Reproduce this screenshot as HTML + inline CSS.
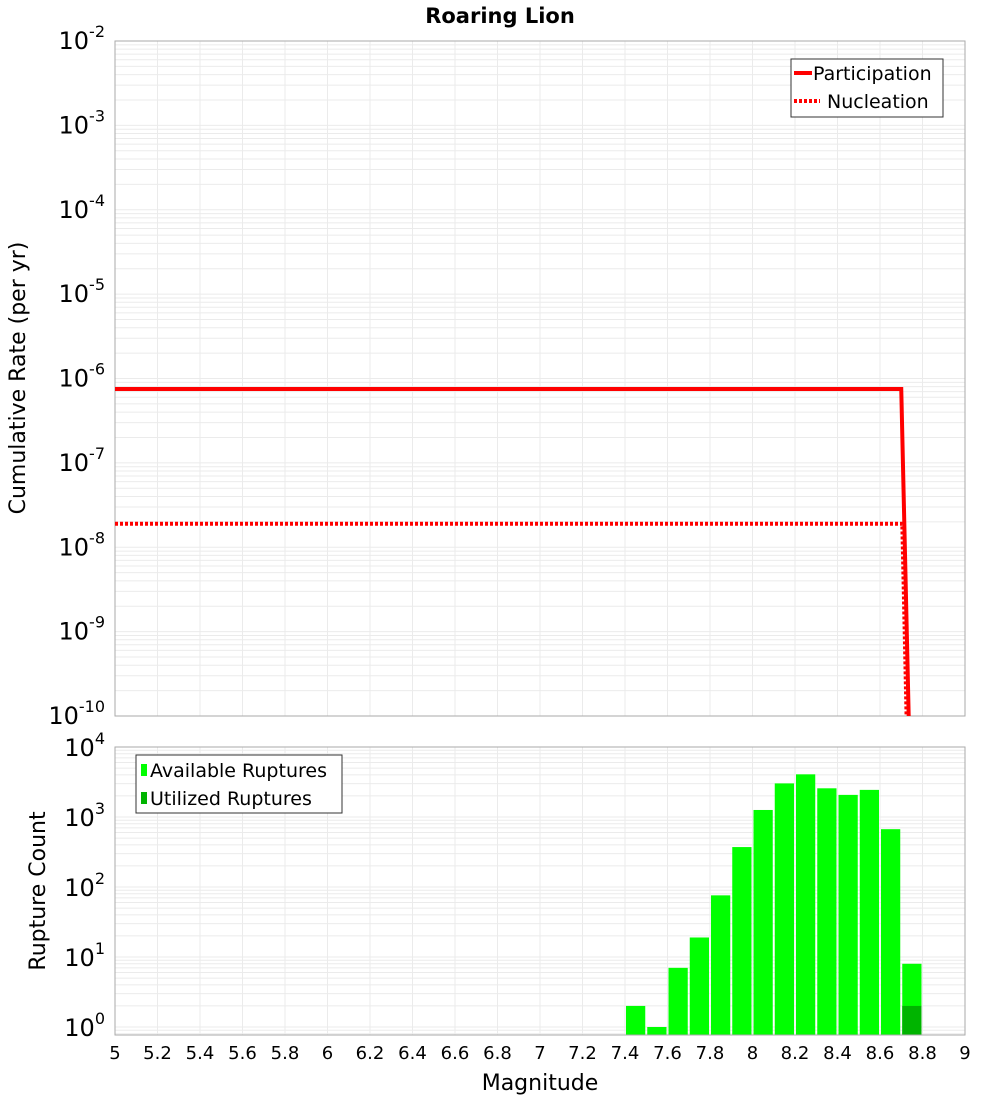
<!DOCTYPE html>
<html><head><meta charset="utf-8"><style>
body{margin:0;background:#fff;}
svg text{font-family:"DejaVu Sans","Liberation Sans",sans-serif;}
</style></head><body>
<svg id="c" width="1000" height="1100" xmlns="http://www.w3.org/2000/svg"></svg>
<script>
const partMags=[5,8.70,8.735];
const partRates=[7.5e-7,7.5e-7,1e-10];
const nuclMags=[5,8.705,8.725];
const nuclRates=[1.9e-8,1.9e-8,1e-10];
const binCenters=[7.45,7.55,7.65,7.75,7.85,7.95,8.05,8.15,8.25,8.35,8.45,8.55,8.65,8.75];
const availCounts=[2,1,7,19,76,372,1260,3020,4070,2570,2070,2440,670,8];
const utilBins=[8.75];
const utilCounts=[2];
const xTicks=[5,5.2,5.4,5.6,5.8,6,6.2,6.4,6.6,6.8,7,7.2,7.4,7.6,7.8,8,8.2,8.4,8.6,8.8,9];
const topExps=[-2,-3,-4,-5,-6,-7,-8,-9,-10];
const botExps=[4,3,2,1,0];

const svg=document.getElementById('c');
const NS='http://www.w3.org/2000/svg';
function mk(tag,attrs,parent){const e=document.createElementNS(NS,tag);for(const k in attrs)e.setAttribute(k,attrs[k]);(parent||svg).appendChild(e);return e;}
const X0=115,X1=965;
const x=m=>X0+(m-5)/4*(X1-X0);
const T0=41,T1=716;
const yT=v=>T0+(-2-Math.log10(v))*(T1-T0)/8;
const B0=747,B1=1035,Bdec=70;
const yB=v=>B0+(4-Math.log10(v))*Bdec;

// top plot
const gTop=mk('g',{});


for(let e=-10;e<-2;e++){for(let k=1;k<10;k++){const yy=yT(k*Math.pow(10,e));mk('line',{x1:X0,x2:X1,y1:yy,y2:yy,stroke:'#ebebeb','stroke-width':1},gTop);}}
xTicks.forEach(t=>{mk('line',{x1:x(t),x2:x(t),y1:T0,y2:T1,stroke:'#ebebeb','stroke-width':1},gTop);});
mk('rect',{x:X0,y:T0,width:X1-X0,height:T1-T0,fill:'none',stroke:'#aaa'},gTop);
topExps.forEach(e=>{const t=mk('text',{x:X0-10,y:yT(Math.pow(10,e))+8,'font-size':24,'text-anchor':'end'},gTop);

t.innerHTML='10<tspan dy="-12" font-size="16">'+e+'</tspan>';});
const cl=mk('clipPath',{id:'ct'});mk('rect',{x:X0,y:T0,width:X1-X0,height:T1-T0},cl);
const pp=mk('polyline',{points:partMags.map((m,i)=>x(m)+','+yT(partRates[i])).join(' '),fill:'none',stroke:'#f00','stroke-width':4,'clip-path':'url(#ct)'},gTop);

const np=mk('polyline',{points:nuclMags.map((m,i)=>x(m)+','+yT(nuclRates[i])).join(' '),fill:'none',stroke:'#f00','stroke-width':4,'stroke-dasharray':'3,2','clip-path':'url(#ct)'},gTop);

const yt=mk('text',{x:0,y:0,'font-size':22,'text-anchor':'middle',transform:'translate(25,378) rotate(-90)'},gTop);
yt.textContent='Cumulative Rate (per yr)';
const tt=mk('text',{x:500,y:23,'font-size':21,'font-weight':'bold','text-anchor':'middle'});
tt.textContent='Roaring Lion';
// legend top
const lg=mk('g',{});
mk('rect',{x:791,y:59,width:152,height:58,fill:'#fff',stroke:'#333'},lg);
mk('line',{x1:794,x2:812,y1:73,y2:73,stroke:'#f00','stroke-width':4},lg);
mk('line',{x1:794,x2:820,y1:101,y2:101,stroke:'#f00','stroke-width':4,'stroke-dasharray':'3,2'},lg);
let t1=mk('text',{x:813,y:80,'font-size':19},lg);t1.textContent='Participation';
let t2=mk('text',{x:827,y:108,'font-size':19},lg);t2.textContent='Nucleation';

// bottom plot
const gB=mk('g',{});
for(let e=-1;e<4;e++){for(let k=1;k<10;k++){const yy=yB(k*Math.pow(10,e));if(yy>B1||yy<B0)continue;mk('line',{x1:X0,x2:X1,y1:yy,y2:yy,stroke:'#ebebeb','stroke-width':1},gB);}}
xTicks.forEach(t=>{mk('line',{x1:x(t),x2:x(t),y1:B0,y2:B1,stroke:'#ebebeb','stroke-width':1},gB);});
const bw=x(5.1)-x(5);
binCenters.forEach((m,i)=>{const top=yB(availCounts[i]);const r=mk('rect',{x:x(m)-bw/2+1,y:top,width:bw-2,height:B1-top,fill:'#00ff00'},gB);
});
utilBins.forEach((m,i)=>{const top=yB(utilCounts[i]);const r=mk('rect',{x:x(m)-bw/2+1,y:top,width:bw-2,height:B1-top,fill:'#00b400'},gB);
});
mk('rect',{x:X0,y:B0,width:X1-X0,height:B1-B0,fill:'none',stroke:'#aaa'},gB);
botExps.forEach(e=>{const t=mk('text',{x:X0-10,y:yB(Math.pow(10,e))+9,'font-size':24,'text-anchor':'end'},gB);

t.innerHTML='10<tspan dy="-12" font-size="16">'+e+'</tspan>';});
xTicks.forEach(v=>{const t=mk('text',{x:x(v),y:1059,'font-size':18,'text-anchor':'middle'},gB);
t.textContent=String(v);});
const xt=mk('text',{x:540,y:1090,'font-size':22,'text-anchor':'middle'},gB);
xt.textContent='Magnitude';
const yt2=mk('text',{x:0,y:0,'font-size':22,'text-anchor':'middle',transform:'translate(45,891) rotate(-90)'},gB);
yt2.textContent='Rupture Count';
const lg2=mk('g',{});
mk('rect',{x:136,y:755,width:206,height:58,fill:'#fff',stroke:'#333'},lg2);
mk('rect',{x:141,y:764,width:6,height:12,fill:'#00ff00'},lg2);
mk('rect',{x:141,y:792,width:6,height:12,fill:'#00b400'},lg2);
let t3=mk('text',{x:150,y:777,'font-size':19},lg2);t3.textContent='Available Ruptures';
let t4=mk('text',{x:150,y:805,'font-size':19},lg2);t4.textContent='Utilized Ruptures';
</script>
</body></html>
